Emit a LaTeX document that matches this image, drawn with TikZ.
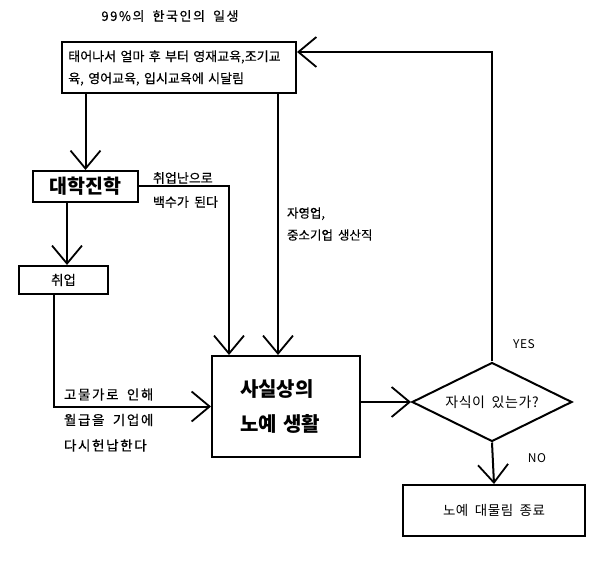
\documentclass[tikz,border=0pt]{standalone}
\usepackage{fontspec}
\setmainfont{Noto Sans CJK KR}[UprightFeatures={FakeBold=0.35}, WordSpace=1.8]
\newfontfamily\thinf{Noto Sans CJK KR}[WordSpace=1.8, LetterSpace=4]
\newfontfamily\widef{Noto Sans CJK KR}[FakeBold=0.35, WordSpace=1.8, LetterSpace=12]
\usetikzlibrary{arrows.meta,shapes.geometric}
\begin{document}
\begin{tikzpicture}[x=1pt,y=-1pt,line width=2pt,
  box/.style={draw, rectangle, inner sep=0pt},
  arr/.style={-{Straight Barb[length=18pt,width=30pt,line width=1.8pt]}},
  lbl/.style={anchor=west, inner sep=0pt, align=left},
  fs/.style={font=\fontsize{#1}{#1}\selectfont}]
\useasboundingbox[fill=white] (0,0) rectangle (600,569);

\node[font=\fontsize{13}{13}\selectfont\widef] (title) at (170,16) {99\%의 한국인의 일생};

\node[box, minimum width=234pt, minimum height=51pt, text width=230pt, inner xsep=2pt, align=left,
      font=\fontsize{13}{22}\selectfont] (top) at (179,68)
  {~태어나서 얼마 후 부터 영재교육,조기교\\~육, 영어교육, 입시교육에 시달림};

\node[box, minimum width=105pt, minimum height=31pt, font=\fontsize{19.5}{19.5}\selectfont\bfseries] (dj) at (85.5,186.5) {대학진학};

\node[box, minimum width=89pt, minimum height=28pt, fs=13.5] (job) at (63.5,280) {취업};

\node[box, minimum width=148pt, minimum height=101pt, text width=92pt, inner xsep=28pt, align=left,
      font=\fontsize{20}{35}\selectfont\bfseries] (slave) at (286,406.5) {사실상의\\노예 생활};

\node[draw, diamond, minimum width=160pt, minimum height=79pt, inner sep=0pt, aspect=2,
      font=\fontsize{14}{14}\selectfont\thinf] (dia) at (492,402) {자식이 있는가?};

\node[box, minimum width=182pt, minimum height=51pt, font=\fontsize{13.5}{13.5}\selectfont\thinf] (end) at (494,510.5) {노예 대물림 종료};

\node[lbl, font=\fontsize{13}{24}\selectfont] (l1) at (152,190) {취업난으로\\백수가 된다};
\node[lbl, font=\fontsize{12.5}{22}\selectfont] (l2) at (286,224) {자영업,\\중소기업 생산직};
\node[lbl, font=\fontsize{13.5}{25.5}\selectfont\widef] (l3) at (63,420) {고물가로 인해\\월급을 기업에\\다시헌납한다};
\node[font=\fontsize{12}{12}\selectfont\thinf] (yes) at (524,344) {YES};
\node[font=\fontsize{12}{12}\selectfont\thinf] (no) at (537,458) {NO};

\coordinate (c1) at (278,0);
\coordinate (c2) at (229,0);
\coordinate (c3) at (67,0);
\coordinate (c4) at (54,0);
\coordinate (c5) at (0,52);

\draw[arr] (dj.north |- top.south) -- (dj.north);
\draw[arr] (top.south -| c1) -- (slave.north -| c1);
\draw[arr] (dj.east) -| (slave.north -| c2);
\draw[arr] (dj.south -| c3) -- (job.north -| c3);
\draw[arr] (job.south -| c4) |- (slave.west);
\draw[arr] (slave.east |- dia.west) -- (dia.west);
\draw[arr] (dia.north) |- (top.east |- c5);
\draw[arr] (dia.south) -- (end.north);
\end{tikzpicture}
\end{document}
